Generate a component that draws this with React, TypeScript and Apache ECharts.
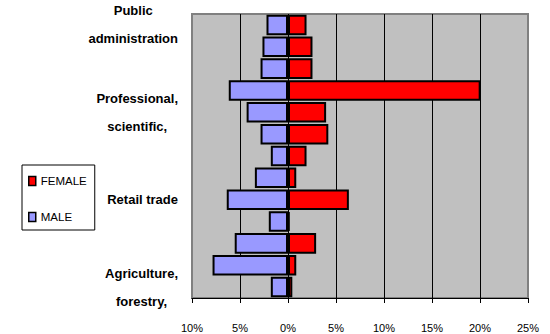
import React, { useEffect, useRef } from "react";
import * as echarts from "echarts";

const categories = [
  "Agriculture,\nforestry,",
  "Construction",
  "Manufacturing",
  "Wholesale trade",
  "Retail trade",
  "Transportation and warehousing",
  "Information",
  "Finance, insurance, real estate",
  "Professional,\nscientific,",
  "Educational, health and social services",
  "Arts, entertainment, recreation",
  "Other services",
  "Public\nadministration",
];
const femaleValues = [0.45, 0.86, 2.93, 0.17, 6.34, 0.86, 1.93, 4.2, 3.97, 20.07, 2.55, 2.55, 1.93];
const maleValues = [-1.79, -7.86, -5.55, -2.0, -6.38, -3.45, -1.79, -2.86, -4.31, -6.17, -2.86, -2.66, -2.24];
const xTicks = { min: -10, max: 25, interval: 5 };

const FONT = "Arial, 'Liberation Sans', sans-serif";

export default function App() {
  const ref = useRef<HTMLDivElement>(null);
  useEffect(() => {
    if (!ref.current) return;
    const chart = echarts.init(ref.current, undefined, { renderer: "svg" });
    chart.setOption({
      animation: false,
      backgroundColor: "#ffffff",
      grid: {
        left: 192,
        right: 22,
        top: 14,
        bottom: 36,
        show: true,
        backgroundColor: "#C0C0C0",
        borderColor: "#808080",
        borderWidth: 2,
      },
      legend: {
        orient: "vertical",
        left: 22,
        top: 165,
        data: ["FEMALE", "MALE"],
        icon: "rect",
        itemWidth: 7,
        itemHeight: 9,
        itemGap: 24,
        borderColor: "#000",
        borderWidth: 1,
        borderRadius: 0,
        padding: [10, 8, 7, 6],
        itemStyle: { borderColor: "#000", borderWidth: 1.5 },
        textStyle: { fontFamily: FONT, fontSize: 11.5, color: "#000" },
      },
      xAxis: {
        type: "value",
        min: xTicks.min,
        max: xTicks.max,
        interval: xTicks.interval,
        axisLine: { show: true, lineStyle: { color: "#000", width: 1 } },
        axisTick: { show: true, length: 5, lineStyle: { color: "#000" } },
        splitLine: {
          show: true,
          showMinLine: false,
          showMaxLine: false,
          lineStyle: { color: "#000", width: 1 },
        },
        axisLabel: {
          margin: 24,
          fontFamily: FONT,
          fontSize: 11,
          color: "#000",
          formatter: (v: number) => Math.abs(v) + "%",
        },
      },
      yAxis: {
        type: "category",
        data: categories,
        axisLine: { show: false },
        axisTick: { show: false },
        axisLabel: {
          interval: 3,
          margin: 14,
          formatter: (v: string) =>
            v
              .split("\n")
              .map((l) => "{c|" + l + "}")
              .join("\n"),
          rich: {
            c: {
              align: "center",
              fontFamily: FONT,
              fontWeight: "bold",
              fontSize: 13,
              lineHeight: 28,
              color: "#000",
            },
          },
        },
      },
      series: [
        {
          name: "FEMALE",
          type: "bar",
          stack: "total",
          data: femaleValues,
          barCategoryGap: "6%",
          itemStyle: { color: "#FF0000", borderColor: "#000", borderWidth: 2 },
        },
        {
          name: "MALE",
          type: "bar",
          stack: "total",
          data: maleValues,
          barCategoryGap: "6%",
          itemStyle: { color: "#9999FF", borderColor: "#000", borderWidth: 2 },
        },
      ],
    });
    return () => chart.dispose();
  }, []);
  return (
    <div
      ref={ref}
      style={{ position: "fixed", left: 0, top: 0, width: 550, height: 334 }}
    />
  );
}
